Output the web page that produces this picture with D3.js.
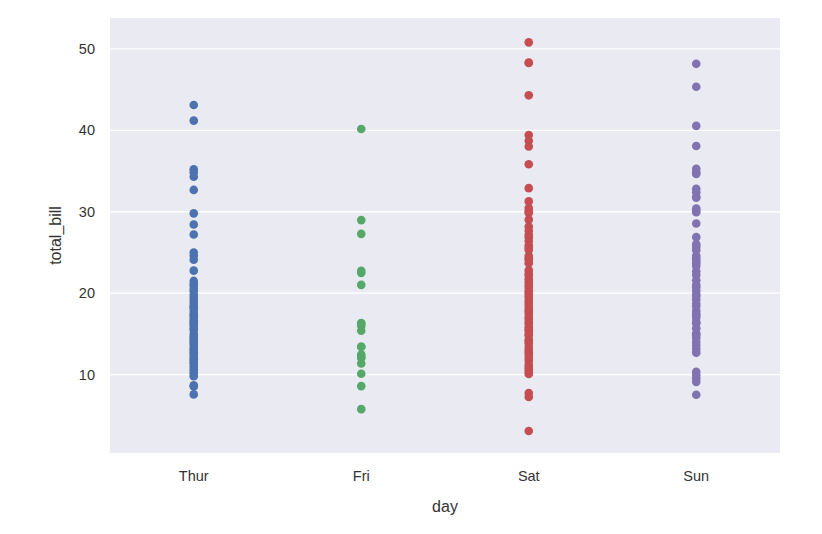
<!DOCTYPE html>
<html>
<head>
<meta charset="utf-8">
<script src="https://cdn.jsdelivr.net/npm/d3@7"></script>
<style>
  html, body { margin: 0; padding: 0; background: #fff; }
  text { font-family: "Liberation Sans", Arial, sans-serif; }
</style>
</head>
<body>
<svg id="chart" width="822" height="534"></svg>
<script>
const days = ["Thur", "Fri", "Sat", "Sun"];
const colors = ["#4C72B0", "#55A868", "#C44E52", "#8172B2"];
const yTicks = [10, 20, 30, 40, 50];

const thurBills = [43.11, 41.19, 35.2, 34.83, 34.3, 32.68, 29.8, 28.44, 27.2, 25.0, 24.6, 24.1, 22.76,
  21.5, 21.16, 20.92, 20.53, 20.27, 19.81, 19.44, 19.08, 18.71, 18.35, 18.28, 17.92, 17.51, 17.29,
  16.97, 16.66, 16.43, 16.21, 15.98, 15.69, 15.48, 15.01, 14.73, 14.52, 14.26, 14.07, 13.81, 13.51,
  13.16, 13.03, 12.74, 12.48, 12.16, 11.87, 11.59, 11.38, 11.02, 10.65, 10.34, 10.07, 9.78,
  8.69, 8.52, 7.56];
const friBills = [28.97, 22.49, 5.75, 16.32, 22.75, 40.17, 27.28, 12.03, 21.01, 12.46, 11.35,
  15.38, 12.16, 13.42, 8.58, 15.98, 13.42, 16.27, 10.09];
const satBills = [50.81, 48.33, 48.27, 44.30, 39.42, 38.73, 38.01, 35.83, 32.9, 31.27, 30.46, 30.06,
  29.85, 29.03, 28.17, 27.67, 27.18, 26.86, 26.41, 25.89, 25.56, 25.29, 24.55, 24.27, 24.06, 23.68,
  22.82, 22.42, 22.12, 21.7, 21.33, 20.98, 20.65, 20.29, 20.08, 19.77, 19.49, 19.08, 18.78,
  18.43, 18.04, 17.78, 17.47, 17.07, 16.82, 16.45, 16.21, 15.81, 15.53, 15.36, 14.96, 14.78, 14.31,
  14.07, 13.81, 13.39, 13.0, 12.74, 12.43, 12.02, 11.69, 11.24, 10.92, 10.63, 10.33, 10.07,
  7.74, 7.25, 3.07];
const sunBills = [48.17, 45.35, 40.55, 38.07, 35.26, 34.81, 34.63, 32.83, 32.4, 31.85, 31.71, 30.4,
  30.14, 29.93, 28.55, 26.88, 26.0, 25.71, 25.28, 24.59, 24.27, 23.95, 23.68, 23.33, 22.67, 22.23,
  21.58, 21.01, 20.69, 20.29, 19.82, 19.65, 19.2, 18.69, 18.35, 17.82, 17.46, 17.26, 16.97, 16.45,
  16.31, 15.69, 15.06, 14.83, 14.48, 14.0, 13.56, 13.13, 12.69, 10.34, 9.94, 9.55, 9.1, 7.51];
const series = [thurBills, friBills, satBills, sunBills];

const svg = d3.select("#chart");
const plot = { left: 110, right: 780, top: 18, bottom: 453 };

const x = d3.scaleBand().domain(days).range([plot.left, plot.right]);
const y = d3.scaleLinear().domain([0.36, 53.8]).range([plot.bottom, plot.top]);

svg.append("rect")
  .attr("x", plot.left).attr("y", plot.top)
  .attr("width", plot.right - plot.left).attr("height", plot.bottom - plot.top)
  .attr("fill", "#EAEAF2");

// gridlines
svg.append("g").selectAll("line").data(yTicks).join("line")
  .attr("x1", plot.left).attr("x2", plot.right)
  .attr("y1", d => y(d)).attr("y2", d => y(d))
  .attr("stroke", "#fff").attr("stroke-width", 1.3);

// y axis
const yAxis = svg.append("g")
  .attr("transform", `translate(${plot.left},0)`)
  .call(d3.axisLeft(y).tickValues(yTicks).tickSize(0).tickPadding(15));
yAxis.select(".domain").remove();
yAxis.selectAll("text").attr("font-size", 14.5).attr("fill", "#333")
  .attr("font-family", "'Liberation Sans', Arial, sans-serif");

// x axis
const xAxis = svg.append("g")
  .attr("transform", `translate(0,${plot.bottom})`)
  .call(d3.axisBottom(x).tickSize(0).tickPadding(18));
xAxis.select(".domain").remove();
xAxis.selectAll("text").attr("font-size", 14.5).attr("fill", "#333")
  .attr("font-family", "'Liberation Sans', Arial, sans-serif");

// points
days.forEach((day, i) => {
  svg.append("g").selectAll("circle").data(series[i]).join("circle")
    .attr("cx", x(day) + x.bandwidth() / 2)
    .attr("cy", d => y(d))
    .attr("r", 4.3)
    .attr("fill", colors[i]);
});

// axis labels
svg.append("text")
  .attr("x", (plot.left + plot.right) / 2).attr("y", 512)
  .attr("text-anchor", "middle").attr("font-size", 16).attr("fill", "#333")
  .text("day");
svg.append("text")
  .attr("transform", `translate(61,${(plot.top + plot.bottom) / 2}) rotate(-90)`)
  .attr("text-anchor", "middle").attr("font-size", 16).attr("fill", "#333")
  .text("total_bill");
</script>
</body>
</html>
